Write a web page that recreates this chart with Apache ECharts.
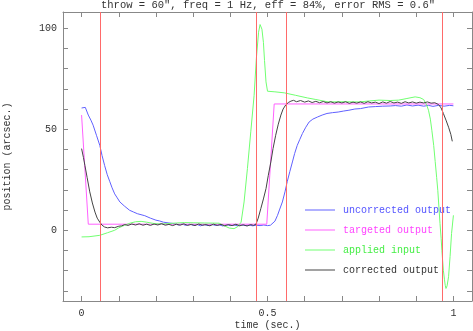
<!DOCTYPE html>
<html>
<head>
<meta charset="utf-8">
<script src="https://cdn.jsdelivr.net/npm/echarts@6/dist/echarts.min.js"></script>
<style>
  html, body { margin: 0; padding: 0; background: #fff; }
  #chart { width: 473px; height: 331px; }
</style>
</head>
<body>
<div id="chart"></div>
<script>
// time (sec.) / position (arcsec.) pairs
var uncorrected = [[0,60.5],[0.005,61],[0.01,60.8],[0.018,57],[0.025,54.5],[0.031,52],[0.04,47],[0.049,42],[0.055,37],[0.062,32],[0.069,27.5],[0.076,24],[0.082,21],[0.089,18],[0.096,16],[0.103,14],[0.115,12],[0.129,9.9],[0.14,9],[0.15,8.2],[0.17,7.2],[0.185,6],[0.2,5],[0.21,4.6],[0.22,4],[0.235,3.6],[0.25,3.3],[0.26,2.6],[0.27,3.1],[0.28,2.4],[0.29,3],[0.3,2.5],[0.31,2.9],[0.32,2.2],[0.33,2.8],[0.34,2.3],[0.35,2.9],[0.36,2.4],[0.37,2.7],[0.38,2.1],[0.39,2.8],[0.4,2.3],[0.41,2.6],[0.42,2.2],[0.43,2.7],[0.44,2.3],[0.45,2.6],[0.46,2.2],[0.47,2.5],[0.48,2.3],[0.49,2.6],[0.5,2.3],[0.508,2.5],[0.513,3],[0.52,4.5],[0.527,7.4],[0.533,10.5],[0.54,14],[0.547,19],[0.553,24],[0.56,29],[0.567,33.8],[0.573,38],[0.58,42],[0.587,45],[0.594,47.9],[0.603,51],[0.612,53.6],[0.622,55],[0.634,56],[0.647,57],[0.66,57.8],[0.675,58.2],[0.69,58.5],[0.705,59],[0.719,59.4],[0.735,60],[0.75,60.2],[0.772,61],[0.79,61.2],[0.81,61.4],[0.83,61.5],[0.844,61.7],[0.86,61.4],[0.875,62],[0.89,61.5],[0.905,61.9],[0.92,61.4],[0.933,61.8],[0.945,61.3],[0.96,61.8],[0.975,61.4],[0.99,61.8],[1.0,61.6]];

var targeted = [[0,57],[0.018,3],[0.498,3],[0.518,62.5],[1.0,62.5]];

var applied = [[0,-3.3],[0.02,-3.2],[0.049,-2.5],[0.07,-1.2],[0.089,0],[0.1,1.2],[0.116,2.5],[0.13,3.5],[0.145,4.2],[0.16,4.4],[0.175,4],[0.196,3.3],[0.215,3.1],[0.232,3.3],[0.255,3.6],[0.277,3.8],[0.3,3.7],[0.33,3.6],[0.37,3.5],[0.384,2.2],[0.397,1.1],[0.41,0.8],[0.42,1.8],[0.429,4],[0.437,14],[0.446,30.5],[0.455,48.7],[0.464,66.8],[0.47,85],[0.476,98],[0.48,101.8],[0.485,99.5],[0.489,93],[0.492,84],[0.496,73.4],[0.5,68.8],[0.52,68.5],[0.545,68],[0.575,66.8],[0.607,65.5],[0.63,64.7],[0.652,63.9],[0.665,63.5],[0.7,63.6],[0.746,63.5],[0.775,64],[0.8,64.4],[0.83,64.2],[0.853,64.4],[0.875,65.2],[0.897,66],[0.91,65.6],[0.92,64.7],[0.928,62],[0.933,59.4],[0.938,55],[0.942,49.5],[0.947,42],[0.951,34],[0.955,26],[0.958,19.8],[0.961,11.5],[0.964,3.3],[0.967,-4],[0.969,-9.9],[0.971,-15],[0.973,-19.8],[0.976,-24.5],[0.978,-27.2],[0.98,-28.8],[0.983,-27.5],[0.987,-23],[0.991,-13],[0.995,-1.6],[1.0,7.4]];

var corrected = [[0,40.4],[0.005,36],[0.009,32],[0.015,26],[0.022,19],[0.029,13.5],[0.036,9],[0.042,6],[0.049,4],[0.055,2.5],[0.062,1.6],[0.07,1.2],[0.08,1.5],[0.089,1.3],[0.1,2],[0.108,2.2],[0.116,2.8],[0.125,2.4],[0.135,3.1],[0.145,2.6],[0.155,3.2],[0.165,2.5],[0.175,3],[0.185,2.4],[0.195,3.1],[0.205,2.6],[0.215,3.3],[0.225,2.5],[0.235,2.9],[0.245,2.3],[0.255,3],[0.265,2.5],[0.275,3.2],[0.285,2.4],[0.295,2.9],[0.305,2.3],[0.315,3.1],[0.325,2.5],[0.335,2.8],[0.345,2.2],[0.355,3],[0.365,2.4],[0.375,2.9],[0.385,2.2],[0.395,2.8],[0.405,2.3],[0.415,3],[0.425,2.2],[0.435,2.7],[0.445,2.1],[0.455,2.8],[0.462,2.4],[0.469,3],[0.475,6],[0.482,10.7],[0.489,15.5],[0.496,20.6],[0.502,27],[0.509,33.8],[0.515,40.5],[0.522,47],[0.529,52.5],[0.536,57],[0.542,60],[0.549,62],[0.556,63.2],[0.563,63.9],[0.57,64.3],[0.578,63.6],[0.589,64.2],[0.6,63.4],[0.61,64],[0.62,63.2],[0.63,63.8],[0.64,63.1],[0.65,63.7],[0.66,63],[0.67,63.6],[0.68,62.9],[0.69,63.5],[0.7,63],[0.71,63.6],[0.72,62.8],[0.73,63.4],[0.74,62.9],[0.75,63.5],[0.76,62.8],[0.77,63.6],[0.78,63],[0.79,63.4],[0.8,62.7],[0.81,63.5],[0.82,62.9],[0.83,63.7],[0.84,63],[0.85,63.4],[0.86,62.8],[0.87,63.6],[0.88,63],[0.89,63.5],[0.9,62.9],[0.91,63.4],[0.92,63],[0.93,63.5],[0.94,62.9],[0.95,63.1],[0.96,62.2],[0.967,60.5],[0.973,57.8],[0.98,54.5],[0.987,51],[0.993,47.5],[0.997,44]];

// vertical red markers
var markerTimes = [0.05, 0.47, 0.55, 0.97];

var xTicks = [0, 0.1, 0.2, 0.3, 0.4, 0.5, 0.6, 0.7, 0.8, 0.9, 1];
var xLabels = [0, 0.5, 1];
var yTicks = [-30, -20, -10, 0, 10, 20, 30, 40, 50, 60, 70, 80, 90, 100];
var yLabels = [0, 50, 100];

var FONT = 'Liberation Mono';
var AXIS_COLOR = '#888';
var RED = '#ff6a6a';

function xAxisOpt(pos, withLabel) {
    return {
        type: 'value', position: pos, min: -0.05, max: 1.05,
        name: withLabel ? 'time (sec.)' : '',
        nameLocation: 'middle', nameGap: 19, nameMoveOverlap: false,
        nameTextStyle: { fontFamily: FONT, fontSize: 10, color: '#333' },
        axisLine: { show: true, onZero: false, lineStyle: { color: AXIS_COLOR } },
        axisTick: { show: true, inside: true, length: 5, customValues: xTicks, lineStyle: { color: AXIS_COLOR } },
        axisLabel: { show: withLabel, customValues: xLabels, margin: 7, fontFamily: FONT, fontSize: 10, color: '#333' },
        splitLine: { show: false }
    };
}

function yAxisOpt(pos, withLabel) {
    return {
        type: 'value', position: pos, min: -35, max: 108,
        name: withLabel ? 'position (arcsec.)' : '',
        nameLocation: 'middle', nameGap: 51, nameMoveOverlap: false,
        nameTextStyle: { fontFamily: FONT, fontSize: 10, color: '#333' },
        axisLine: { show: true, onZero: false, lineStyle: { color: AXIS_COLOR } },
        axisTick: { show: true, inside: true, length: 5, customValues: yTicks, lineStyle: { color: AXIS_COLOR } },
        axisLabel: { show: withLabel, customValues: yLabels, margin: 6, fontFamily: FONT, fontSize: 10, color: '#333' },
        splitLine: { show: false }
    };
}

function lineSeries(name, data, color) {
    return {
        name: name, type: 'line', data: data,
        symbol: 'none', smooth: false,
        lineStyle: { color: color, width: 1 },
        itemStyle: { color: color }
    };
}

var chart = echarts.init(document.getElementById('chart'));
chart.setOption({
    animation: false,
    title: {
        text: 'throw = 60\u2033, freq = 1 Hz, eff = 84%, error RMS = 0.6\u2033',
        left: 268, top: 0, padding: 0, textAlign: 'center',
        textStyle: { fontFamily: FONT, fontSize: 10.5, fontWeight: 'normal', color: '#333' }
    },
    grid: { left: 63, right: 1, top: 12, bottom: 30, containLabel: false, outerBoundsMode: 'none' },
    legend: {
        orient: 'vertical', left: 305, top: 203, padding: 0,
        icon: 'rect', itemWidth: 30, itemHeight: 1, itemGap: 6,
        textStyle: { fontFamily: FONT, fontSize: 10, lineHeight: 14, padding: [0, 0, 0, 3] },
        data: [
            { name: 'uncorrected output', textStyle: { color: '#5555ff' } },
            { name: 'targeted output', textStyle: { color: '#ff44ff' } },
            { name: 'applied input', textStyle: { color: '#44ee44' } },
            { name: 'corrected output', textStyle: { color: '#333' } }
        ]
    },
    xAxis: [xAxisOpt('bottom', true), xAxisOpt('top', false)],
    yAxis: [yAxisOpt('left', true), yAxisOpt('right', false)],
    series: [
        lineSeries('uncorrected output', uncorrected, '#6060ff'),
        lineSeries('targeted output', targeted, '#ff60ff'),
        lineSeries('applied input', applied, '#70ff70'),
        lineSeries('corrected output', corrected, '#444'),
        {
            name: 'markers', type: 'line', data: [], z: 5,
            itemStyle: { color: RED },
            markLine: {
                silent: true, symbol: 'none', animation: false,
                label: { show: false },
                lineStyle: { color: RED, type: 'solid', width: 1, opacity: 1 },
                data: markerTimes.map(function (t) {
                    return { xAxis: t, lineStyle: { color: RED, type: 'solid', width: 1 } };
                })
            }
        }
    ]
});
</script>
</body>
</html>
